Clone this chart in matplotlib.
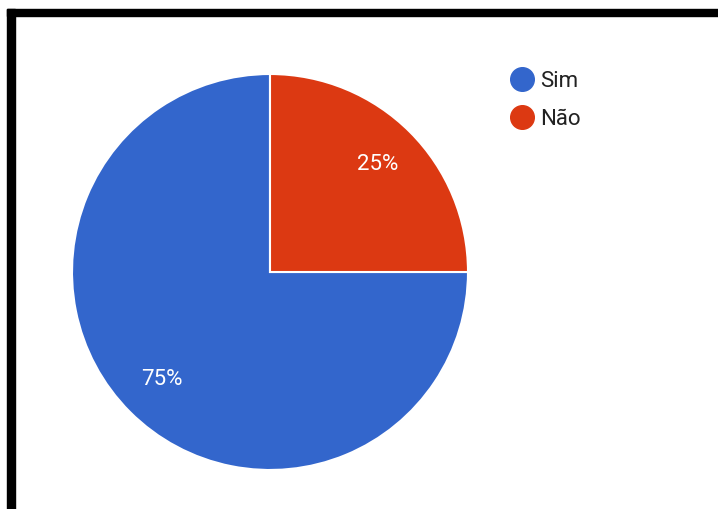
import matplotlib.pyplot as plt
from matplotlib.patches import Rectangle
from matplotlib.lines import Line2D

plt.rcParams['font.family'] = ['Roboto', 'DejaVu Sans']

# dados do gráfico
labels = ['Sim', 'Não']
values = [75, 25]
colors = ['#3366cc', '#dc3912']

W, H = 718, 509
fig = plt.figure(figsize=(W / 100, H / 100), dpi=100)

# moldura preta (topo e lado esquerdo)
fig.patches.append(Rectangle((7 / W, 1 - 16 / H), 1, 7 / H, transform=fig.transFigure,
                             color='black', zorder=0))
fig.patches.append(Rectangle((7 / W, 0), 8 / W, 1 - 9 / H, transform=fig.transFigure,
                             color='black', zorder=0))

# pizza
cx, cy, r = 270, 272, 198
ax = fig.add_axes([(cx - r) / W, (H - cy - r) / H, 2 * r / W, 2 * r / H])
wedges, texts, autotexts = ax.pie(values, colors=colors, startangle=90, counterclock=True,
                                  autopct='%d%%', pctdistance=0.77, radius=1,
                                  wedgeprops=dict(edgecolor='white', linewidth=1.5),
                                  textprops=dict(color='white', fontsize=16))
ax.set_xlim(-1, 1)
ax.set_ylim(-1, 1)
ax.set_aspect('auto')
ax.axis('off')

# legenda
handles = [Line2D([0], [0], marker='o', linestyle='', markersize=17,
                  markerfacecolor=c, markeredgecolor=c) for c in colors]
leg = fig.legend(handles, labels, loc='upper left', bbox_to_anchor=(496 / W, 1 - 62 / H),
                 frameon=False, fontsize=16, handletextpad=0.1, labelspacing=0.75,
                 handlelength=1.5, borderaxespad=0)
for t in leg.get_texts():
    t.set_color('#222222')

fig.savefig('out.png', dpi=100)
